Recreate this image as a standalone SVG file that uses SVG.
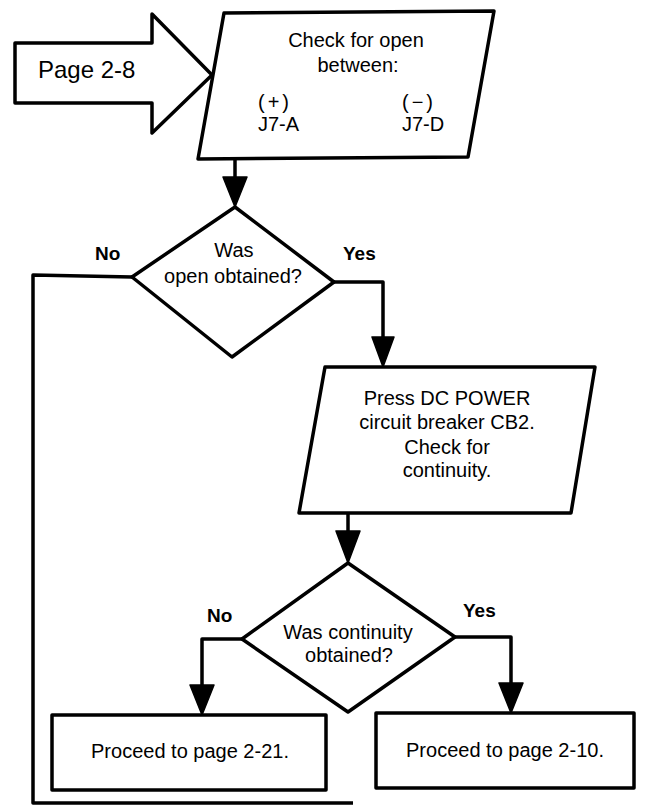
<svg xmlns="http://www.w3.org/2000/svg" width="647" height="806" viewBox="0 0 647 806">
<defs>
<style>
.sh{fill:#fff;stroke:#000;stroke-width:3.5;stroke-linejoin:round}
.ln{fill:none;stroke:#000;stroke-width:3.5;stroke-linejoin:round}
.ah{fill:#000;stroke:#000;stroke-width:1.5;stroke-linejoin:round}
.t{font-family:"Liberation Sans",Arial,sans-serif;font-size:20px;fill:#000;text-anchor:middle}
.l{text-anchor:start}
.sp{letter-spacing:3px}
.b{font-weight:bold;font-size:19px;text-anchor:start}
</style>
</defs>
<rect width="647" height="806" fill="#fff"/>
<g id="connectors">
<path class="ln" d="M235,159 V190"/>
<polygon class="ah" points="223,177 247,177 235,207"/>
<path class="ln" d="M132,277 L33,275 V803 H353"/>
<path class="ln" d="M334,282 H383 V345"/>
<polygon class="ah" points="372,337 394,337 383,367"/>
<path class="ln" d="M348,513 V540"/>
<polygon class="ah" points="336,531 360,531 348,563"/>
<path class="ln" d="M242,639 H202 V695"/>
<polygon class="ah" points="190,685 214,685 202,715"/>
<path class="ln" d="M455,637 H511 V692"/>
<polygon class="ah" points="499,683 523,683 511,713"/>
<text class="t b" x="95" y="260">No</text>
<text class="t b" x="343" y="260">Yes</text>
<text class="t b" x="207" y="622">No</text>
<text class="t b" x="463" y="617">Yes</text>
</g>
<g id="page-arrow">
<polygon class="sh" points="15,43 152,43 152,14 212,75 152,133 152,103 15,103"/>
<text x="38" y="78" style="font-family:'Liberation Sans',Arial,sans-serif;font-size:24px">Page 2-8</text>
</g>
<g id="check-open">
<polygon class="sh" points="224,13 494,11 468,157 198,159"/>
<text class="t" x="356" y="47">Check for open</text>
<text class="t" x="358" y="72">between:</text>
<text class="t l sp" x="258" y="109">(+)</text>
<text class="t l" x="258" y="131">J7-A</text>
<text class="t l sp" x="402" y="109">(−)</text>
<text class="t l" x="402" y="131">J7-D</text>
</g>
<g id="decision-open">
<polygon class="sh" points="235,207 334,282 232,357 132,277"/>
<text class="t" x="234" y="257">Was</text>
<text class="t" x="233" y="283">open obtained?</text>
</g>
<g id="press-dc">
<polygon class="sh" points="325,367 595,367 571,513 299,513"/>
<text class="t" x="447" y="405">Press DC POWER</text>
<text class="t" x="447" y="429">circuit breaker CB2.</text>
<text class="t" x="447" y="454">Check for</text>
<text class="t" x="447" y="477">continuity.</text>
</g>
<g id="decision-continuity">
<polygon class="sh" points="348,563 455,637 348,712 242,639"/>
<text class="t" x="348" y="639">Was continuity</text>
<text class="t" x="349" y="662">obtained?</text>
</g>
<g id="proceed-2-21">
<rect class="sh" x="52" y="715" width="274" height="75"/>
<text class="t" x="190" y="758">Proceed to page 2-21.</text>
</g>
<g id="proceed-2-10">
<rect class="sh" x="376" y="713" width="258" height="75"/>
<text class="t" x="505" y="757">Proceed to page 2-10.</text>
</g>
</svg>
